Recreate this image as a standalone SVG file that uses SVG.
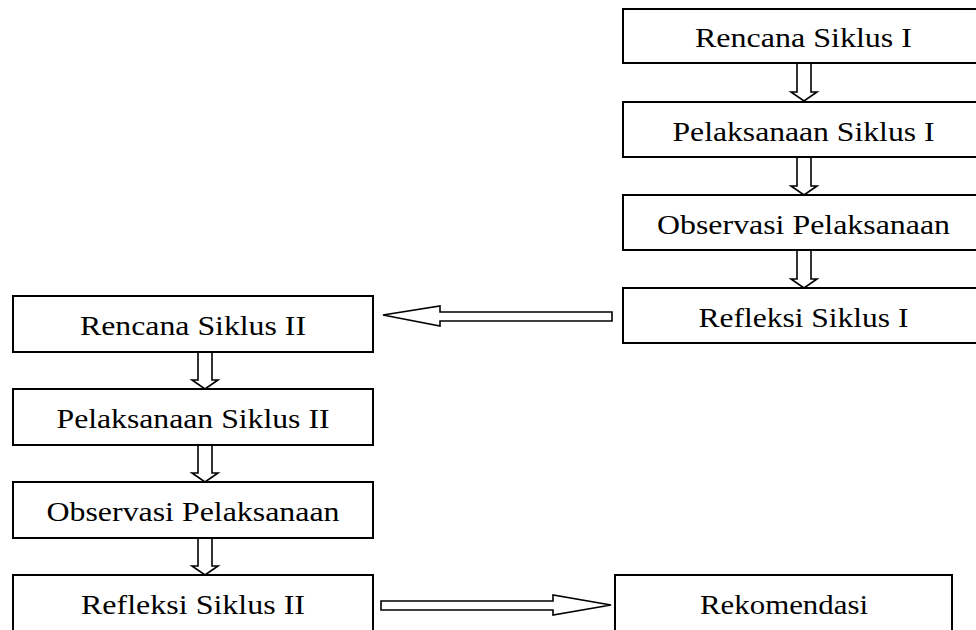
<svg xmlns="http://www.w3.org/2000/svg" width="976" height="630" viewBox="0 0 976 630">
<style>
.box{fill:#fff;stroke:#000;stroke-width:2}
.t{font-family:"Liberation Serif","Times New Roman",serif;font-size:28px;fill:#000;text-anchor:middle}
.arr{fill:#fff;stroke:#000;stroke-width:1.6;stroke-linejoin:miter}
</style>
<rect width="976" height="630" fill="#fff"/>
<g id="connectors">
<path class="arr" d="M797,63 V92 H791 L804,101 L817,92 H811 V63"/>
<path class="arr" d="M797,157 V186 H791 L804,195 L817,186 H811 V157"/>
<path class="arr" d="M797,250 V279 H791 L804,288 L817,279 H811 V250"/>
<path class="arr" d="M198,352 V380 H192 L205,389 L218,380 H212 V352"/>
<path class="arr" d="M198,445 V473 H192 L205,482 L218,473 H212 V445"/>
<path class="arr" d="M198,538 V566 H192 L205,575 L218,566 H212 V538"/>
<path class="arr" d="M612,312 H440 V306 L383,315 L440,326 V321 H612 Z"/>
<path class="arr" d="M381,601 H553 V595 L611,605 L553,615 V610 H381 Z"/>
</g>
<g id="n1"><rect class="box" x="623" y="9" width="361" height="54"/><text class="t" x="803.5" y="47" textLength="217" lengthAdjust="spacingAndGlyphs">Rencana Siklus I</text></g>
<g id="n2"><rect class="box" x="623" y="102" width="361" height="55"/><text class="t" x="803.5" y="141" textLength="262" lengthAdjust="spacingAndGlyphs">Pelaksanaan Siklus I</text></g>
<g id="n3"><rect class="box" x="623" y="195" width="361" height="55"/><text class="t" x="803.5" y="234" textLength="293" lengthAdjust="spacingAndGlyphs">Observasi Pelaksanaan</text></g>
<g id="n4"><rect class="box" x="623" y="288" width="361" height="55"/><text class="t" x="803.5" y="327" textLength="210" lengthAdjust="spacingAndGlyphs">Refleksi Siklus I</text></g>
<g id="n5"><rect class="box" x="13" y="296" width="360" height="56"/><text class="t" x="193" y="335" textLength="226" lengthAdjust="spacingAndGlyphs">Rencana Siklus II</text></g>
<g id="n6"><rect class="box" x="13" y="389" width="360" height="56"/><text class="t" x="193" y="428" textLength="273" lengthAdjust="spacingAndGlyphs">Pelaksanaan Siklus II</text></g>
<g id="n7"><rect class="box" x="13" y="482" width="360" height="56"/><text class="t" x="193" y="521" textLength="293" lengthAdjust="spacingAndGlyphs">Observasi Pelaksanaan</text></g>
<g id="n8"><rect class="box" x="13" y="575" width="360" height="70"/><text class="t" x="193" y="614" textLength="224" lengthAdjust="spacingAndGlyphs">Refleksi Siklus II</text></g>
<g id="n9"><rect class="box" x="615" y="575" width="337" height="70"/><text class="t" x="784" y="614" textLength="168" lengthAdjust="spacingAndGlyphs">Rekomendasi</text></g>
</svg>
